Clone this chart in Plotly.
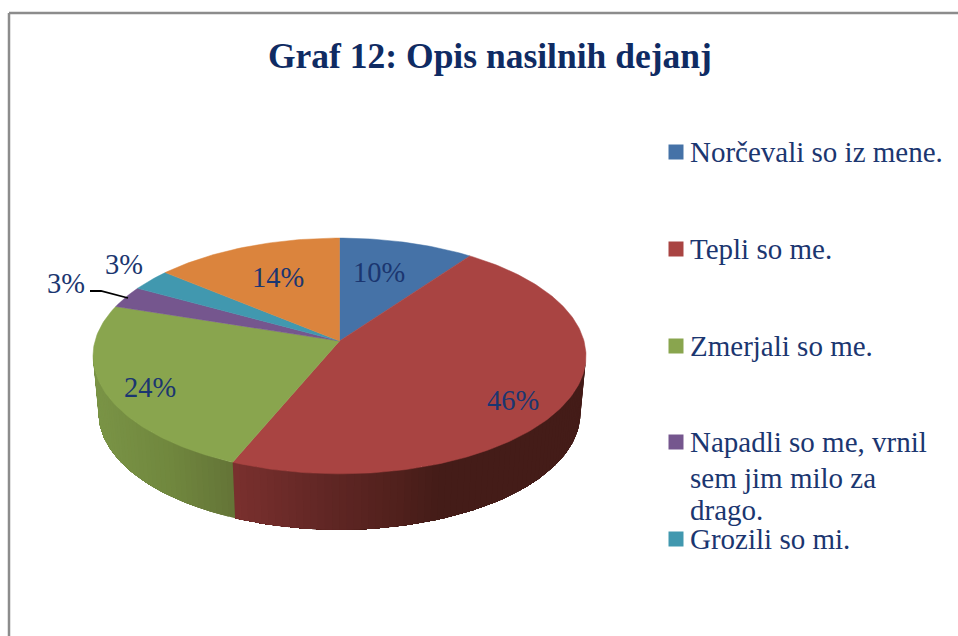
import math
import plotly.graph_objects as go

# ---- data ----
categories = ["Norčevali so iz mene.", "Tepli so me.", "Zmerjali so me.",
              "Napadli so me, vrnil<br>sem jim milo za<br>drago.", "Grozili so mi.", ""]
values = [10, 46.3, 23.7, 3, 3, 14]
colors = ["#4572A7", "#A94442", "#89A54E", "#75568E", "#4198AF", "#DB843D"]

TITLE = "Graf 12: Opis nasilnih dejanj"
TEXT_COLOR = "#1B3670"
TITLE_COLOR = "#0F2B63"
FONT = "Liberation Serif"

# ---- projection of the tilted disc onto the page (pixel-like axes) ----
CX, CY, RX, RY, K = 339.5, 341.0, 244.5, 116.0, 0.127
CX2, CY2, RX2, RY2 = 339.5, 398.0, 239.0, 115.0


def top(theta):
    u, v = math.sin(theta), math.cos(theta)
    s = 1 / (1 + K * v)
    return CX + RX * u * s, CY - RY * v * s


def bottom(theta):
    u, v = math.sin(theta), math.cos(theta)
    s = 1 / (1 + K * v)
    return CX2 + RX2 * u * s, CY2 - RY2 * v * s


def lerp_stops(stops, x):
    if x <= stops[0][0]:
        return stops[0][1]
    for (x0, c0), (x1, c1) in zip(stops, stops[1:]):
        if x <= x1:
            t = (x - x0) / (x1 - x0)
            return tuple(a + (b - a) * t for a, b in zip(c0, c1))
    return stops[-1][1]


side_shades = {
    1: [(233, (122, 48, 46)), (320, (98, 39, 37)), (400, (80, 32, 28)), (440, (68, 28, 24)), (590, (68, 28, 24))],
    2: [(93, (122, 148, 70)), (170, (112, 135, 62)), (233, (100, 116, 55))],
}

fig = go.Figure()

# slice angular ranges
total = sum(values)
edges = [0.0]
for val in values:
    edges.append(edges[-1] + val / total * 2 * math.pi)

# ---- side wall: overlapping strips so no seams show ----
vis0, vis1 = math.radians(97), math.radians(263)
for i in side_shades:
    a0, a1 = max(edges[i], vis0), min(edges[i + 1], vis1)
    n = max(2, int(math.degrees(a1 - a0) / 1.5))
    for j in range(n):
        t0 = a0 + (a1 - a0) * j / n
        t1 = a1
        steps = max(2, n - j)
        ts = [t0 + (t1 - t0) * s / steps for s in range(steps + 1)]
        p = [top(t) for t in ts] + [bottom(t) for t in reversed(ts)]
        p.append(p[0])
        xm = (top(t0)[0] + top(a0 + (a1 - a0) * (j + 1) / n)[0]) / 2
        r, g, b = lerp_stops(side_shades[i], xm)
        col = f"rgb({r:.0f},{g:.0f},{b:.0f})"
        fig.add_trace(go.Scatter(x=[q[0] for q in p], y=[q[1] for q in p], mode="lines",
                                 fill="toself", fillcolor=col, line=dict(width=0),
                                 hoverinfo="skip", showlegend=False))

# ---- top face ----
for i, col in enumerate(colors):
    n = max(4, int(math.degrees(edges[i + 1] - edges[i])))
    pts = [(CX, CY)] + [top(edges[i] + (edges[i + 1] - edges[i]) * j / n) for j in range(n + 1)] + [(CX, CY)]
    fig.add_trace(go.Scatter(x=[q[0] for q in pts], y=[q[1] for q in pts], mode="lines",
                             fill="toself", fillcolor=col, line=dict(color=col, width=0.5),
                             name=categories[i].replace("<br>", " "), showlegend=False,
                             hoverinfo="name"))

# ---- leader line for the small slice ----
fig.add_trace(go.Scatter(x=[90, 101, 128], y=[291, 291, 298], mode="lines",
                         line=dict(color="black", width=1.8), hoverinfo="skip", showlegend=False))

# ---- data labels ----
label_xy = [(379, 275), (513, 403), (150, 390), (66, 286), (124, 267), (278, 280)]
fig.add_trace(go.Scatter(x=[p[0] for p in label_xy], y=[p[1] for p in label_xy], mode="text",
                         text=[f"{round(v)}%" for v in values],
                         textfont=dict(family=FONT, size=28.5, color=TEXT_COLOR),
                         textposition="middle center", hoverinfo="skip", showlegend=False))

# ---- legend ----
marker_y = [152, 249, 346, 442, 539]
line_y = [[152], [249], [346], [442, 478, 510], [539]]
fig.add_trace(go.Scatter(x=[676] * 5, y=marker_y, mode="markers",
                         marker=dict(symbol="square", size=15, color=colors[:5], line=dict(width=0)),
                         hoverinfo="skip", showlegend=False))
annotations = []
for name, ys in zip(categories[:5], line_y):
    for part, y in zip(name.split("<br>"), ys):
        annotations.append(dict(x=688, y=y, text=part, xref="x", yref="y", xanchor="left", yanchor="middle",
                                showarrow=False, align="left",
                                font=dict(family=FONT, size=29, color=TEXT_COLOR)))
annotations.append(dict(x=489.5, y=56, text=f"<b>{TITLE}</b>", xref="x", yref="y", xanchor="center",
                        yanchor="middle", showarrow=False,
                        font=dict(family=FONT, size=35.5, color=TITLE_COLOR)))

fig.update_layout(
    width=958, height=636, margin=dict(l=0, r=0, t=0, b=0, pad=0),
    paper_bgcolor="white", plot_bgcolor="white", showlegend=False,
    xaxis=dict(range=[0, 958], visible=False, fixedrange=True),
    yaxis=dict(range=[636, 0], visible=False, fixedrange=True),
    annotations=annotations,
    shapes=[
        dict(type="line", xref="x", yref="y", x0=9, y0=13, x1=958, y1=13, line=dict(color="#8C8C8C", width=2.5)),
        dict(type="line", xref="x", yref="y", x0=9, y0=13, x1=9, y1=636, line=dict(color="#8C8C8C", width=2.5)),
    ],
)

fig.write_html("out.html", config={"displayModeBar": False},
               post_script="document.body.style.margin='0';")
